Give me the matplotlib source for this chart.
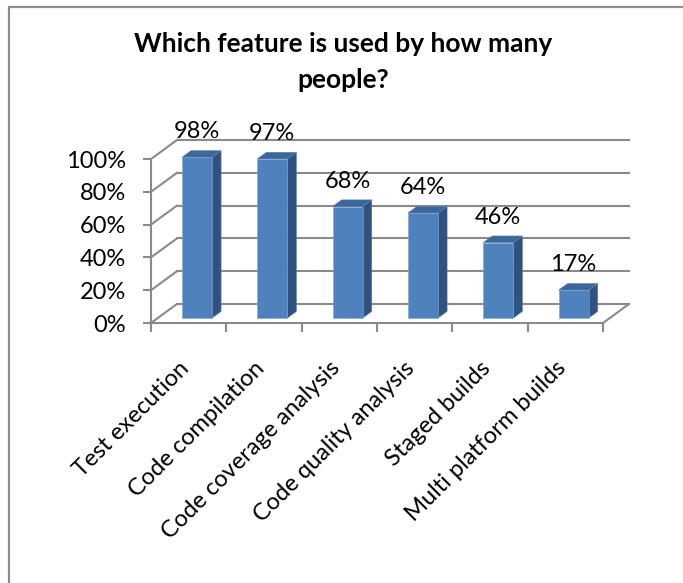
import matplotlib
matplotlib.use("Agg")
import matplotlib.pyplot as plt
from matplotlib.patches import Polygon, Rectangle

plt.rcParams['font.family'] = ['Lato', 'DejaVu Sans']

# data
features = ["Test execution", "Code compilation", "Code coverage analysis",
            "Code quality analysis", "Staged builds", "Multi platform builds"]
usage = [98, 97, 68, 64, 46, 17]
y_ticks = [0, 20, 40, 60, 80, 100]
title_lines = ["Which feature is used by how many", "people?"]

# 3d look (in data units)
DX, DY = 0.345, 11.6       # depth of the chart box
D0 = 0.26                  # where bars start in depth
BD = 0.35                  # bar depth
grid_col = '#8a8a8a'
front_col, side_col, top_col = '#4F81BD', '#31527E', '#3D679C'

fig = plt.figure(figsize=(6.83, 5.83), dpi=100)
ax = fig.add_axes([151 / 683, 260 / 583, 452 / 683, 164 / 583])
ax.set_xlim(0, len(features))
ax.set_ylim(0, 100)
ax.set_facecolor('none')

# back wall gridlines + left wall diagonals
for g in y_ticks:
    ax.plot([DX, len(features) + DX], [g + DY, g + DY], color=grid_col, lw=1.5,
            clip_on=False, zorder=1)
    ax.plot([0, DX], [g, g + DY], color=grid_col, lw=1.5, clip_on=False, zorder=1)
# floor right edge
ax.plot([len(features), len(features) + DX], [0, DY], color=grid_col, lw=1.5,
        clip_on=False, zorder=1)

# bars
for i, v in enumerate(usage):
    x0 = i + 0.32 + D0 * DX
    x1 = x0 + 0.4
    y0 = D0 * DY
    y1 = v + y0
    bx, by = BD * DX, BD * DY
    side = [(x1, y0), (x1 + bx, y0 + by), (x1 + bx, y1 + by), (x1, y1)]
    top = [(x0, y1), (x1, y1), (x1 + bx, y1 + by), (x0 + bx, y1 + by)]
    ax.add_patch(Polygon(side, closed=True, fc=side_col, ec='#5a7fb0', lw=0.4,
                         clip_on=False, zorder=3))
    ax.add_patch(Polygon(top, closed=True, fc=top_col, ec='#5a7fb0', lw=0.4,
                         clip_on=False, zorder=3))
    ax.add_patch(Rectangle((x0, y0), 0.4, v, fc=front_col, ec='#7fa3d0', lw=0.4,
                           clip_on=False, zorder=4))
    ax.text(x0 + 0.2, y1 + 15.5, f"{v}%", ha='center', va='center',
            fontsize=17, color='black', zorder=5)

# axes
for s in ['top', 'right']:
    ax.spines[s].set_visible(False)
for s in ['left', 'bottom']:
    ax.spines[s].set_color(grid_col)
    ax.spines[s].set_linewidth(1.5)
    ax.spines[s].set_zorder(2)

ax.set_yticks(y_ticks, [f"{t}%" for t in y_ticks])
ax.tick_params(axis='y', length=6, width=1.5, color=grid_col, pad=12,
               labelsize=17)
ax.set_xticks(range(len(features) + 1), [''] * (len(features) + 1))
ax.tick_params(axis='x', length=6.5, width=1.5, color=grid_col)

for i, name in enumerate(features):
    ax.text(i + 0.36, -21, name, rotation=45, ha='right', va='top',
            rotation_mode='anchor', fontsize=17, color='black')

# title, two lines
for k, line in enumerate(title_lines):
    fig.text(0.503, 1 - (52 + 36 * k) / 583, line, ha='center', va='baseline',
             fontsize=19, fontweight='bold')

# chart frame
fig.patches.append(Rectangle((8.5 / 683, -0.05), 1.0, 1 - 7.5 / 583 + 0.05,
                             transform=fig.transFigure, fill=False,
                             ec='#8c8c8c', lw=1.6))

fig.savefig("out.png", dpi=100)
